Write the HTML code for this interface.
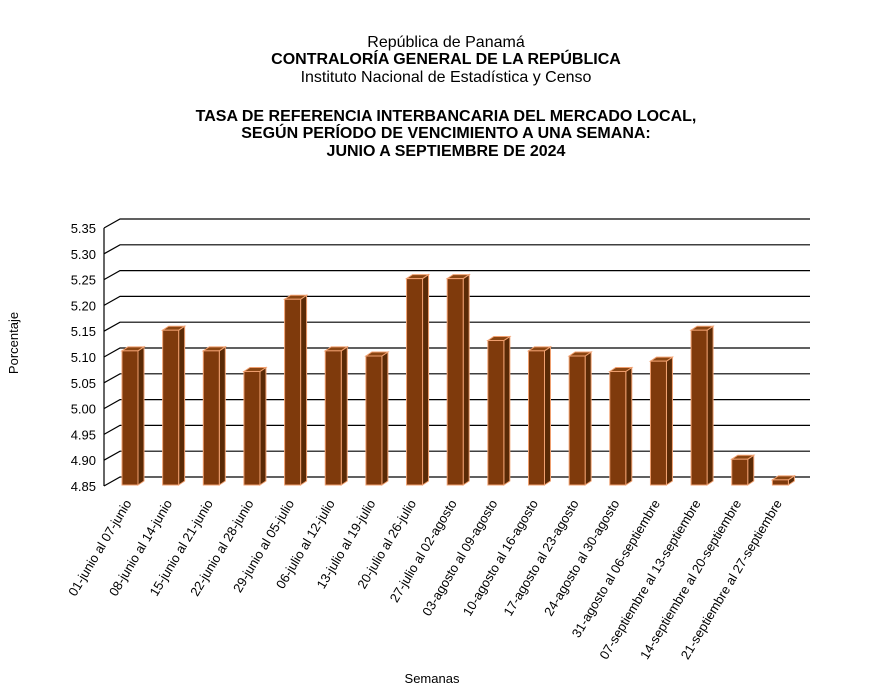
<!DOCTYPE html>
<html><head><meta charset="utf-8"><style>
body{margin:0;background:#fff}
svg{display:block;font-family:"Liberation Sans",Arial,sans-serif}
</style></head><body>
<svg width="876" height="694" xmlns="http://www.w3.org/2000/svg">
<g text-anchor="middle" fill="#000">
<text x="446" y="47" font-size="16">República de Panamá</text>
<text x="446" y="64" font-size="16" font-weight="bold">CONTRALORÍA GENERAL DE LA REPÚBLICA</text>
<text x="446" y="82" font-size="16">Instituto  Nacional de Estadística  y  Censo</text>
<text x="446" y="121" font-size="16" font-weight="bold">TASA DE REFERENCIA INTERBANCARIA DEL MERCADO LOCAL,</text>
<text x="446" y="138" font-size="16" font-weight="bold">SEGÚN PERÍODO DE VENCIMIENTO A UNA SEMANA:</text>
<text x="446" y="156" font-size="16" font-weight="bold">JUNIO A  SEPTIEMBRE DE 2024</text>
<text x="432" y="683" font-size="13">Semanas</text>
<text transform="translate(18,343) rotate(-90)" font-size="13">Porcentaje</text>
</g>
<g id="grid" stroke="#000" stroke-width="1.2" fill="none"></g>
<g id="lab" font-size="13" fill="#000" text-anchor="end"></g>
<g id="bars"></g>
<g id="xl" font-size="13" fill="#000" text-anchor="end"></g>
<script>
var ns="http://www.w3.org/2000/svg";
function el(p,t,a,txt){var e=document.createElementNS(ns,t);for(var k in a)e.setAttribute(k,a[k]);if(txt)e.textContent=txt;document.getElementById(p).appendChild(e);}
var back0=477,step=25.8;
for(var i=0;i<=10;i++){var y=back0-i*step;
el("grid","path",{d:"M104 "+(y+9)+" L120 "+y+" L810 "+y});
el("lab","text",{x:96,y:y+14},(4.85+i*0.05).toFixed(2));}
el("grid","path",{d:"M104 "+(back0-10*step+9)+" L104 "+(back0+9)});
var v=[5.11,5.15,5.11,5.07,5.21,5.11,5.10,5.25,5.25,5.13,5.11,5.10,5.07,5.09,5.15,4.90,4.86];
var L=["01-junio al 07-junio","08-junio al 14-junio","15-junio al 21-junio","22-junio al 28-junio","29-junio al 05-julio","06-julio al 12-julio","13-julio al 19-julio","20-julio al 26-julio","27-julio al 02-agosto","03-agosto al 09-agosto","10-agosto al 16-agosto","17-agosto al 23-agosto","24-agosto al 30-agosto","31-agosto al 06-septiembre","07-septiembre al 13-septiembre","14-septiembre al 20-septiembre","21-septiembre al 27-septiembre"];
for(var i=0;i<17;i++){var x=122+i*40.65,w=16,b=485,t=b-(v[i]-4.85)/0.05*step,d=6,h=4;
el("bars","path",{d:"M"+(x+w)+" "+t+" l"+d+" -"+h+" L"+(x+w+d)+" "+(b-h)+" L"+(x+w)+" "+b+"Z",fill:"#5a2a06",stroke:"#f0a070","stroke-width":1});
el("bars","path",{d:"M"+x+" "+t+" l"+d+" -"+h+" l"+w+" 0 l-"+d+" "+h+"Z",fill:"#8a4512",stroke:"#f0a070","stroke-width":1});
el("bars","rect",{x:x,y:t,width:w,height:b-t,fill:"#7f3a0c",stroke:"#f0a070","stroke-width":1});
el("xl","text",{transform:"translate("+(x+10)+",503) rotate(-59)"},L[i]);}
</script>
</svg>
</body></html>
